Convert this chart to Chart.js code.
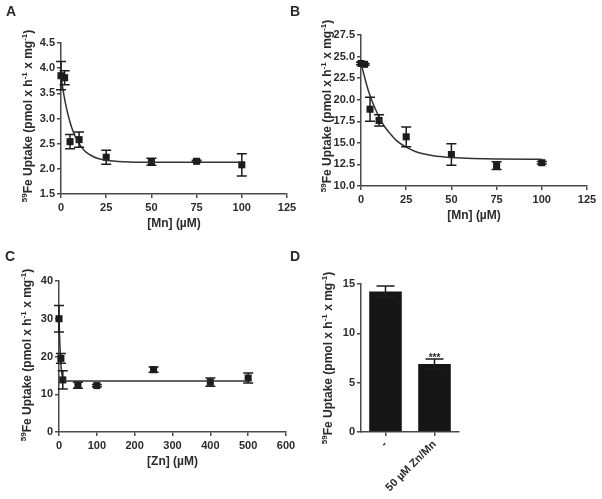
<!DOCTYPE html>
<html>
<head>
<meta charset="utf-8">
<script src="https://cdn.jsdelivr.net/npm/chart.js@4.4.1/dist/chart.umd.min.js"></script>
<style>
  body { margin: 0; background: #fff; }
  #wrap { position: relative; width: 602px; height: 499px; overflow: hidden; font-family: "Liberation Sans", Arial, sans-serif; color: #2b2b2b; }
  canvas { position: absolute; }
  .letter { position: absolute; font-weight: bold; font-size: 14px; }
  .ytitle { position: absolute; font-weight: bold; font-size: 12px; white-space: nowrap;
            transform: translate(-50%, -50%) rotate(-90deg); }
  .ytitle sup { font-size: 8px; vertical-align: 5px; line-height: 0; }
</style>
</head>
<body>
<div id="wrap">
  <canvas id="chartA" width="300" height="245" style="left:0;top:0"></canvas>
  <canvas id="chartB" width="302" height="245" style="left:300px;top:0"></canvas>
  <canvas id="chartC" width="300" height="249" style="left:0;top:250px"></canvas>
  <canvas id="chartD" width="302" height="249" style="left:300px;top:250px"></canvas>

  <div class="letter" style="left:6px;top:3px">A</div>
  <div class="letter" style="left:290px;top:3px">B</div>
  <div class="letter" style="left:5px;top:248px">C</div>
  <div class="letter" style="left:290px;top:248px">D</div>

  <div class="ytitle" style="left:28px;top:116px"><sup>59</sup>Fe Uptake (pmol x h<sup>-1</sup> x mg<sup>-1</sup>)</div>
  <div class="ytitle" style="left:327px;top:106px"><sup>59</sup>Fe Uptake (pmol x h<sup>-1</sup> x mg<sup>-1</sup>)</div>
  <div class="ytitle" style="left:27px;top:355px"><sup>59</sup>Fe Uptake (pmol x h<sup>-1</sup> x mg<sup>-1</sup>)</div>
  <div class="ytitle" style="left:328px;top:358px"><sup>59</sup>Fe Uptake (pmol x h<sup>-1</sup> x mg<sup>-1</sup>)</div>
</div>
<script>
// panel A: Mn, first set
const mnA = [0, 2, 5, 10, 25, 50, 75, 100];
const uptakeA = [3.85, 3.81, 2.54, 2.58, 2.23, 2.14, 2.15, 2.08];
const errA = [0.28, 0.14, 0.14, 0.15, 0.14, 0.07, 0.02, 0.22];
const fitXA = [0, 1, 2, 3, 4, 6, 8, 10, 13, 16, 20, 25, 35, 50, 75, 100];
const fitYA = [3.85, 3.60, 3.39, 3.21, 3.06, 2.81, 2.63, 2.50, 2.36, 2.28, 2.21, 2.17, 2.14, 2.13, 2.13, 2.13];

// panel B: Mn, second set
const mnB = [0, 2, 5, 10, 25, 50, 75, 100];
const uptakeB = [24.2, 24.1, 18.9, 17.6, 15.7, 13.65, 12.35, 12.7];
const errB = [0.15, 0.1, 1.4, 0.65, 1.15, 1.25, 0.45, 0.15];
const fitXB = [0, 2, 4, 6, 8, 10, 13, 16, 20, 25, 30, 40, 50, 75, 100];
const fitYB = [24.3, 22.6, 21.1, 19.9, 18.9, 18.0, 16.9, 16.1, 15.2, 14.5, 14.0, 13.5, 13.3, 13.12, 13.1];

// panel C: Zn
const znC = [0, 5, 10, 50, 100, 250, 400, 500];
const uptakeC = [30.0, 19.5, 13.8, 12.4, 12.3, 16.5, 13.2, 14.3];
const errC = [3.5, 1.3, 2.4, 0.8, 0.3, 0.7, 1.1, 1.3];
const fitXC = [0, 2, 4, 6, 8, 10, 15, 25, 50, 100, 250, 500];
const fitYC = [30.0, 24.0, 19.5, 16.8, 15.2, 14.3, 13.7, 13.5, 13.5, 13.5, 13.5, 13.5];

// panel D: bars
const groupsD = ['-', '50 \u00b5M Zn/Mn'];
const uptakeD = [14.25, 6.9];
const errD = [0.55, 0.5];
const sigD = ['', '***'];

const axisColor = '#4a4a4a';
const markColor = '#1c1c1c';

Chart.defaults.font.family = '"Liberation Sans", Arial, sans-serif';
Chart.defaults.font.weight = 'bold';
Chart.defaults.font.size = 11;
Chart.defaults.color = '#2b2b2b';
Chart.defaults.animation = false;
Chart.defaults.plugins.legend.display = false;
Chart.defaults.plugins.tooltip.enabled = false;

// draws error bars from dataset.errors, plus significance marks
const errorBars = {
  id: 'errorBars',
  afterDatasetsDraw(chart) {
    const ctx = chart.ctx;
    chart.data.datasets.forEach((ds, i) => {
      if (!ds.errors) return;
      const meta = chart.getDatasetMeta(i);
      const yScale = chart.scales.y;
      ctx.save();
      ctx.strokeStyle = markColor;
      ctx.lineWidth = 1.5;
      meta.data.forEach((el, j) => {
        const v = chart.config.type === 'bar' ? ds.data[j] : ds.data[j].y;
        const top = yScale.getPixelForValue(v + ds.errors[j]);
        const bot = yScale.getPixelForValue(v - ds.errors[j]);
        const x = el.x;
        const w = ds.capWidth;
        ctx.beginPath();
        ctx.moveTo(x, top); ctx.lineTo(x, bot);
        ctx.moveTo(x - w, top); ctx.lineTo(x + w, top);
        ctx.moveTo(x - w, bot); ctx.lineTo(x + w, bot);
        ctx.stroke();
        if (ds.marks && ds.marks[j]) {
          ctx.fillStyle = '#2b2b2b';
          ctx.font = 'bold 10px "Liberation Sans", Arial, sans-serif';
          ctx.textAlign = 'center';
          ctx.textBaseline = 'middle';
          ctx.fillText(ds.marks[j], x, top - 1);
        }
      });
      ctx.restore();
    });
  }
};

function axisStyle() {
  return {
    grid: { drawOnChartArea: false, drawTicks: true, tickLength: 4, color: axisColor, lineWidth: 1.5 },
    border: { color: axisColor, width: 1.5 }
  };
}

function curvePanel(id, xs, ys, errs, fitX, fitY, opts) {
  new Chart(document.getElementById(id), {
    type: 'scatter',
    data: {
      datasets: [
        {
          data: fitX.map((x, i) => ({ x: x, y: fitY[i] })),
          showLine: true,
          borderColor: '#333',
          borderWidth: 1.5,
          pointRadius: 0,
          cubicInterpolationMode: 'monotone',
          clip: false
        },
        {
          data: xs.map((x, i) => ({ x: x, y: ys[i] })),
          errors: errs,
          capWidth: 5,
          pointStyle: 'rect',
          pointRadius: 5,
          backgroundColor: markColor,
          borderColor: markColor,
          borderWidth: 0,
          clip: false
        }
      ]
    },
    options: {
      responsive: false,
      layout: { padding: opts.padding },
      scales: {
        x: Object.assign(axisStyle(), {
          type: 'linear', min: 0, max: opts.xMax,
          ticks: { stepSize: opts.xStep, padding: 3 },
          title: { display: true, text: opts.xTitle, font: { size: 12, weight: 'bold' }, padding: { top: 0, bottom: opts.titleBottom } },
          afterFit: s => { s.height = opts.xHeight; }
        }),
        y: Object.assign(axisStyle(), {
          min: opts.yMin, max: opts.yMax,
          ticks: { stepSize: opts.yStep, padding: 2, callback: v => opts.decimals ? v.toFixed(1) : v },
          afterFit: s => { s.width = opts.yWidth; }
        })
      }
    },
    plugins: [errorBars]
  });
}

curvePanel('chartA', mnA, uptakeA, errA, fitXA, fitYA, {
  padding: { top: 43, right: 13, left: 0, bottom: 0 },
  xMax: 125, xStep: 25, xTitle: '[Mn] (\u00b5M)', xHeight: 51, titleBottom: 14,
  yMin: 1.5, yMax: 4.5, yStep: 0.5, decimals: true, yWidth: 61
});

curvePanel('chartB', mnB, uptakeB, errB, fitXB, fitYB, {
  padding: { top: 35, right: 15, left: 0, bottom: 0 },
  xMax: 125, xStep: 25, xTitle: '[Mn] (\u00b5M)', xHeight: 59, titleBottom: 22,
  yMin: 10, yMax: 27.5, yStep: 2.5, decimals: true, yWidth: 61
});

curvePanel('chartC', znC, uptakeC, errC, fitXC, fitYC, {
  padding: { top: 31, right: 14, left: 0, bottom: 0 },
  xMax: 600, xStep: 100, xTitle: '[Zn] (\u00b5M)', xHeight: 67, titleBottom: 30,
  yMin: 0, yMax: 40, yStep: 10, decimals: false, yWidth: 59
});

new Chart(document.getElementById('chartD'), {
  type: 'bar',
  data: {
    labels: groupsD,
    datasets: [{
      data: uptakeD,
      errors: errD,
      marks: sigD,
      capWidth: 9,
      backgroundColor: '#161616',
      borderWidth: 0,
      barPercentage: 0.665,
      categoryPercentage: 1
    }]
  },
  options: {
    responsive: false,
    layout: { padding: { top: 34, right: 143, left: 0, bottom: 0 } },
    scales: {
      x: Object.assign(axisStyle(), {
        ticks: { minRotation: 45, maxRotation: 45, padding: 2 },
        afterFit: s => { s.height = 67; }
      }),
      y: Object.assign(axisStyle(), {
        min: 0, max: 15,
        ticks: { stepSize: 5, padding: 2 },
        afterFit: s => { s.width = 61; }
      })
    }
  },
  plugins: [errorBars]
});
// grid ticks at category centres
Chart.getChart('chartD').options.scales.x.grid.offset = false;
Chart.getChart('chartD').update();
</script>
</body>
</html>
